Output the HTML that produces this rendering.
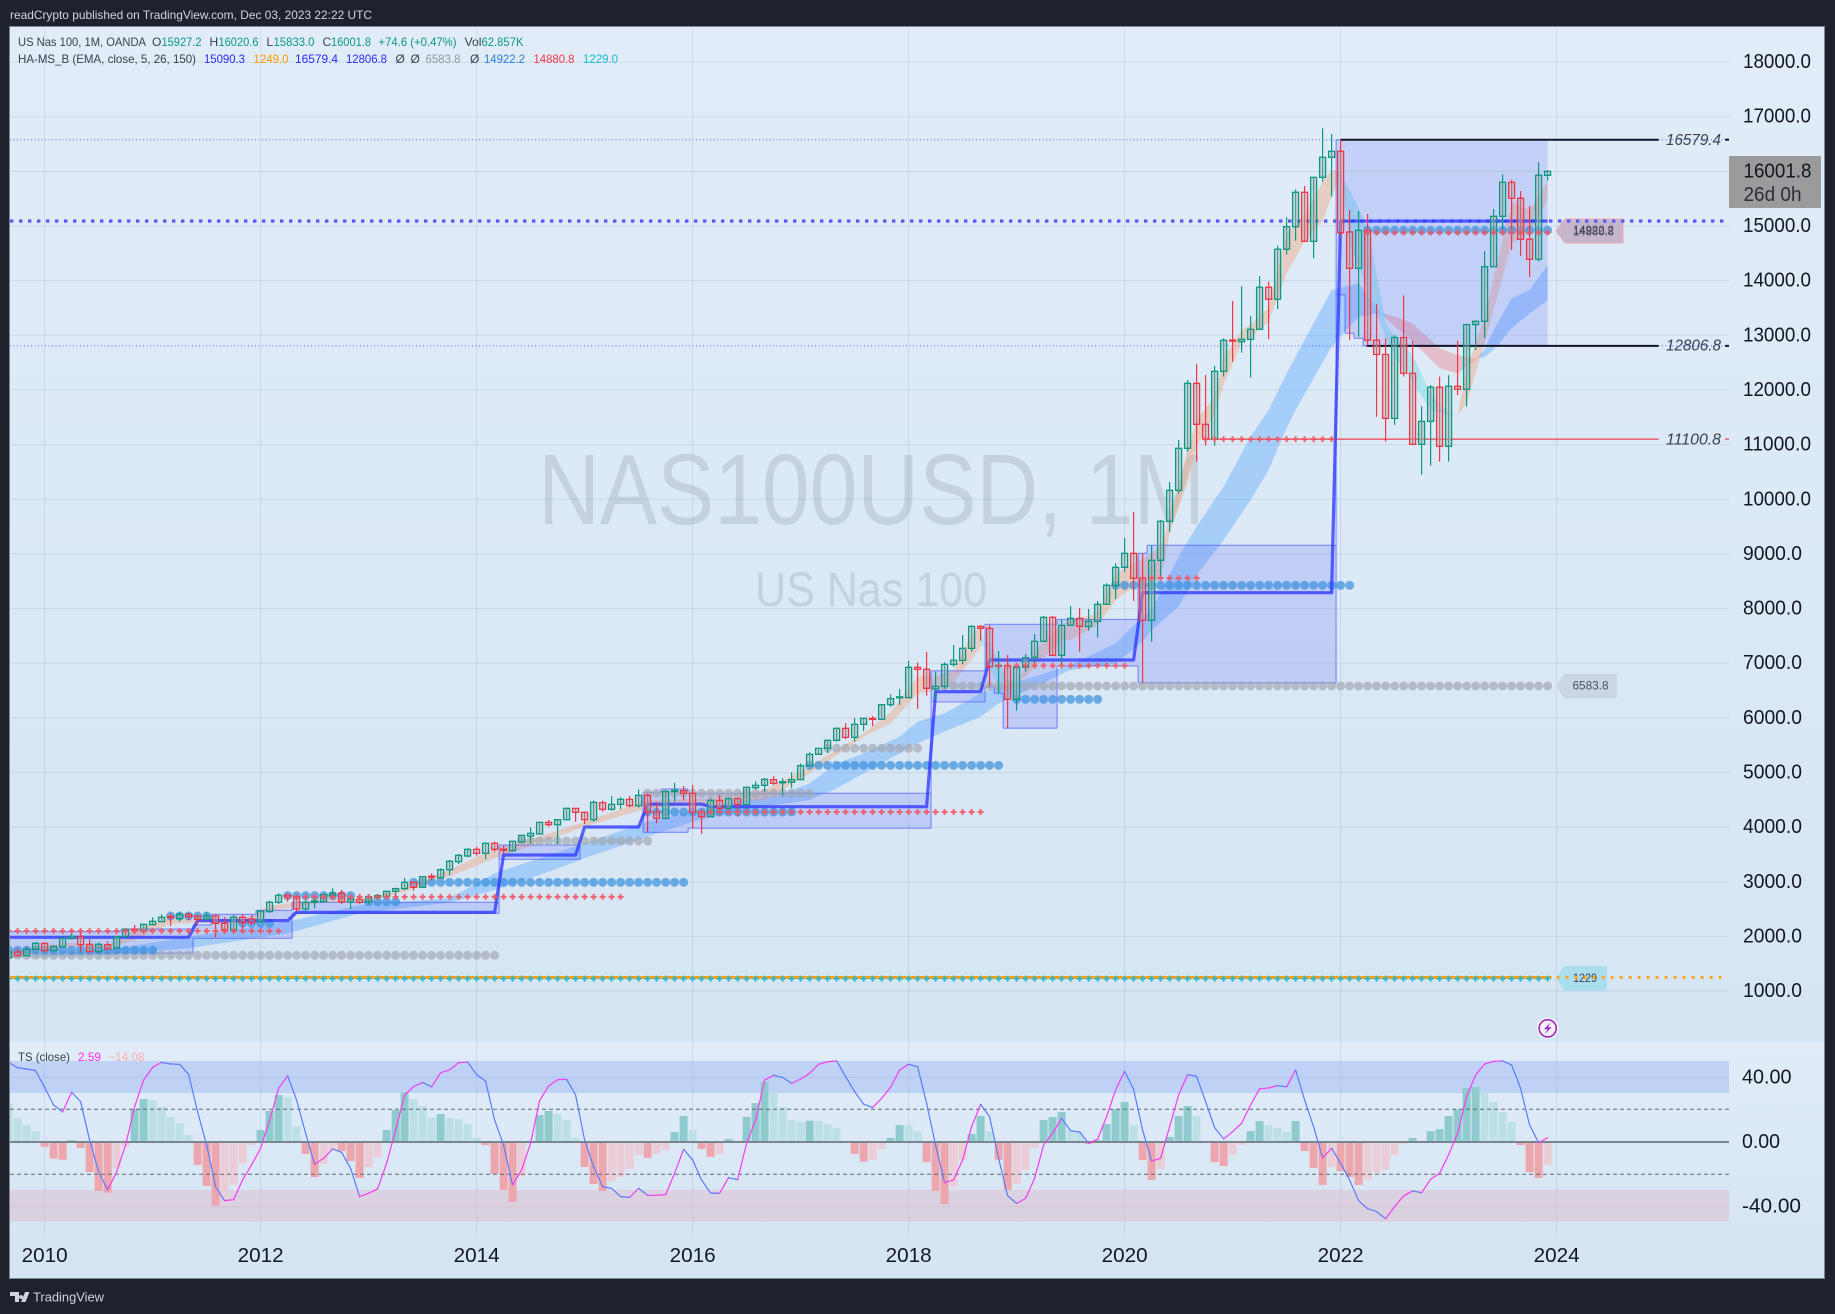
<!DOCTYPE html>
<html lang="en">
<head>
<meta charset="utf-8">
<title>US Nas 100 monthly chart</title>
<style>
html,body{margin:0;padding:0;background:#1e222d;width:1835px;height:1314px;overflow:hidden}
svg{display:block}
text{font-family:"Liberation Sans",sans-serif}
</style>
</head>
<body>
<svg id="chart" xmlns="http://www.w3.org/2000/svg" width="1835" height="1314" viewBox="0 0 1835 1314">
  <defs>
    <linearGradient id="mainBg" x1="0" y1="0" x2="0" y2="1"><stop offset="0" stop-color="#e1ecf8"/><stop offset="1" stop-color="#d6e5f4"/></linearGradient>
    <linearGradient id="tsBg" x1="0" y1="0" x2="0" y2="1"><stop offset="0" stop-color="#e1ecf8"/><stop offset="1" stop-color="#d6e5f4"/></linearGradient>
    <clipPath id="mainClip"><rect x="10" y="27" width="1719" height="1015"/></clipPath>
    <clipPath id="tsClip"><rect x="10" y="1042" width="1719" height="193"/></clipPath>
  </defs>

  <rect x="0" y="0" width="1835" height="1314" fill="#1e222d"/>
  <text x="10" y="19" font-size="12" fill="#d1d4dc" textLength="362" lengthAdjust="spacingAndGlyphs">readCrypto published on TradingView.com, Dec 03, 2023 22:22 UTC</text>

  <rect x="10" y="27" width="1814" height="1015" fill="url(#mainBg)"/>
  <rect x="10" y="1042" width="1814" height="193" fill="url(#tsBg)"/>
  <rect x="10" y="1235" width="1814" height="43" fill="#d6e5f4"/>

  <g id="grid"></g>

  <text x="538" y="524" font-size="100" fill="#6b7680" fill-opacity="0.2" textLength="667" lengthAdjust="spacingAndGlyphs">NAS100USD, 1M</text>
  <text x="755" y="606" font-size="48" fill="#6b7680" fill-opacity="0.2" textLength="232" lengthAdjust="spacingAndGlyphs">US Nas 100</text>

  <g>
    <polygon points="1556,231 1565,219 1623,219 1623,243 1565,243" fill="#c6b6cb" stroke="#f0aab0" stroke-width="1"/>
    <text x="1573" y="234" font-size="11.5" fill="#444a55" textLength="41" lengthAdjust="spacingAndGlyphs">14922.2</text>
    <text x="1573" y="235.5" font-size="11.5" fill="#444a55" textLength="41" lengthAdjust="spacingAndGlyphs">14880.8</text>
    <polygon points="1556.5,686 1564,674 1617,674 1617,698.5 1564,698.5" fill="#cbd6e4"/>
    <text x="1572.5" y="689.5" font-size="12" fill="#4a505c" textLength="36" lengthAdjust="spacingAndGlyphs">6583.8</text>
    <polygon points="1556.5,978 1564,966 1607,966 1607,990.5 1564,990.5" fill="#abdeec"/>
    <text x="1573" y="982" font-size="12" fill="#3f4652" textLength="24" lengthAdjust="spacingAndGlyphs">1229</text>
    <text x="1666" y="145" font-size="15.5" font-style="italic" fill="#3b404c" textLength="55" lengthAdjust="spacingAndGlyphs">16579.4</text>
    <text x="1666" y="350.5" font-size="15.5" font-style="italic" fill="#3b404c" textLength="55" lengthAdjust="spacingAndGlyphs">12806.8</text>
    <text x="1666" y="444.5" font-size="15.5" font-style="italic" fill="#3b404c" textLength="55" lengthAdjust="spacingAndGlyphs">11100.8</text>
  </g>

  <g clip-path="url(#mainClip)">
    <g id="bands"></g>
    <g id="boxes"></g>
    <g id="dots"></g>
    <g id="levels"></g>
    <g id="candles"></g>
    <g id="crosses"></g>
  </g>

  <g font-size="12">
    <text x="18" y="46" fill="#3a3f4b" textLength="128" lengthAdjust="spacingAndGlyphs">US Nas 100, 1M, OANDA</text>
    <text x="152" y="46" fill="#3a3f4b">O</text>
    <text x="161.5" y="46" fill="#089981" textLength="40" lengthAdjust="spacingAndGlyphs">15927.2</text>
    <text x="209.5" y="46" fill="#3a3f4b">H</text>
    <text x="218.5" y="46" fill="#089981" textLength="40" lengthAdjust="spacingAndGlyphs">16020.6</text>
    <text x="266.5" y="46" fill="#3a3f4b">L</text>
    <text x="273.5" y="46" fill="#089981" textLength="41" lengthAdjust="spacingAndGlyphs">15833.0</text>
    <text x="322.5" y="46" fill="#3a3f4b">C</text>
    <text x="331" y="46" fill="#089981" textLength="40" lengthAdjust="spacingAndGlyphs">16001.8</text>
    <text x="378.5" y="46" fill="#089981" textLength="78" lengthAdjust="spacingAndGlyphs">+74.6 (+0.47%)</text>
    <text x="464.5" y="46" fill="#3a3f4b" textLength="17" lengthAdjust="spacingAndGlyphs">Vol</text>
    <text x="481.5" y="46" fill="#089981" textLength="42" lengthAdjust="spacingAndGlyphs">62.857K</text>
    <text x="18" y="63" fill="#3a3f4b" textLength="178" lengthAdjust="spacingAndGlyphs">HA-MS_B (EMA, close, 5, 26, 150)</text>
    <text x="204" y="63" fill="#2a2aff" textLength="41" lengthAdjust="spacingAndGlyphs">15090.3</text>
    <text x="253.5" y="63" fill="#ff9800" textLength="35" lengthAdjust="spacingAndGlyphs">1249.0</text>
    <text x="295" y="63" fill="#2a2aff" textLength="43" lengthAdjust="spacingAndGlyphs">16579.4</text>
    <text x="346" y="63" fill="#2a2aff" textLength="41" lengthAdjust="spacingAndGlyphs">12806.8</text>
    <text x="395.5" y="63" fill="#3a3f4b">Ø</text>
    <text x="410.5" y="63" fill="#3a3f4b">Ø</text>
    <text x="425.5" y="63" fill="#9498a1" textLength="35" lengthAdjust="spacingAndGlyphs">6583.8</text>
    <text x="470" y="63" fill="#3a3f4b">Ø</text>
    <text x="484" y="63" fill="#2a7fd8" textLength="41" lengthAdjust="spacingAndGlyphs">14922.2</text>
    <text x="533.5" y="63" fill="#f23645" textLength="41" lengthAdjust="spacingAndGlyphs">14880.8</text>
    <text x="583" y="63" fill="#12bcd4" textLength="35" lengthAdjust="spacingAndGlyphs">1229.0</text>
  </g>

  <g clip-path="url(#tsClip)">
    <rect x="10" y="1061" width="1719" height="32" fill="#7ba0f2" fill-opacity="0.32"/>
    <rect x="10" y="1189.7" width="1719" height="32" fill="#e88a9a" fill-opacity="0.22"/>
    <g id="hist"></g>
    <line x1="10" y1="1109.3" x2="1729" y2="1109.3" stroke="#5f6670" stroke-width="1" stroke-dasharray="4 3"/>
    <line x1="10" y1="1174.3" x2="1729" y2="1174.3" stroke="#5f6670" stroke-width="1" stroke-dasharray="4 3"/>
    <line x1="10" y1="1142" x2="1729" y2="1142" stroke="#78878f" stroke-width="2"/>
    <g id="tsline"></g>
  </g>
  <text x="18" y="1061" font-size="12" fill="#3a3f4b" textLength="52" lengthAdjust="spacingAndGlyphs">TS (close)</text>
  <text x="78" y="1061" font-size="12" fill="#ff2bf0" textLength="23" lengthAdjust="spacingAndGlyphs">2.59</text>
  <text x="108.5" y="1061" font-size="12" fill="#fbaeae" textLength="36" lengthAdjust="spacingAndGlyphs">−14.08</text>

  <g>
    <circle cx="1547.7" cy="1028.3" r="10.5" fill="#ffffff"/>
    <circle cx="1547.7" cy="1028.3" r="8.6" fill="#f4eef9" stroke="#9c27b0" stroke-width="1.6"/>
    <path d="M1550.5 1022.5 L1544 1029.3 L1547.5 1029.3 L1545 1034 L1551.5 1027.2 L1548 1027.2 Z" fill="#9c27b0"/>
  </g>

  <g id="priceAxis"></g>
  <g id="tsAxis"></g>
  <g id="timeAxis"></g>

  <g>
    <rect x="1729" y="156" width="92" height="52" fill="#9b9b9b" rx="1"/>
    <text x="1743.5" y="177.5" font-size="20" fill="#131722" textLength="68" lengthAdjust="spacingAndGlyphs">16001.8</text>
    <text x="1743.5" y="201" font-size="20" fill="#2a2e39" textLength="58" lengthAdjust="spacingAndGlyphs">26d 0h</text>
  </g>

  <rect x="9.5" y="26.5" width="1815" height="1252" fill="none" stroke="#7d8794" stroke-width="1"/>

  <g>
    <path d="M10 1292 H19 V1302 H15 V1296 H10 Z M21 1295 a2 2 0 1 0 0.01 0 Z M25 1292 H29.5 L25.5 1302 H21 Z" fill="#d1d4dc"/>
    <text x="33" y="1301.5" font-size="13" fill="#d1d4dc" textLength="71" lengthAdjust="spacingAndGlyphs">TradingView</text>
  </g>
</svg>

<script>
// ---------- chart data (index 0 = Sep 2009, one entry per month) ----------
const opens = [
1612,1716,1649,1765,1875,1740,1813,1960,2003,1856,1722,1850,1783,1997,2135,2106,
2216,2271,2365,2326,2405,2375,2314,2375,2240,2118,2350,2320,
2271,2454,2625,2753,2716,2503,2625,2637,2753,2790,2631,2680,
2637,2716,2728,2826,2875,2991,2899,3104,3076,3222,3369,3472,
3594,3521,3704,3596,3570,3729,3838,3875,4088,4046,4137,4344,
4271,4137,4448,4326,4418,4509,4393,4582,4277,4162,4650,4668,
4619,4271,4192,4490,4344,4521,4411,4722,4765,4869,4826,4820,
4869,5125,5332,5442,5588,5808,5643,5881,5991,5973,6241,6375,
6369,6924,6888,6530,6577,6979,7052,7272,7674,7638,6950,6955,
6339,6924,7107,7400,7839,7144,7693,7821,7674,7766,8077,8425,
8754,9010,8553,7784,8883,9596,10163,10932,12121,11371,11103,12341,
12912,12884,12926,13110,13880,13660,14575,14987,15617,14720,15890,16257,
16367,14890,14226,14920,12910,12650,11480,12960,12305,11005,11425,12050,
10969,12067,12012,13195,13256,14255,15177,15800,15507,14757,14391,15927];
const highs = [
1753,1783,1813,1893,1893,1832,1978,2057,2088,1948,1893,1911,1997,2143,2210,2222,
2350,2405,2423,2436,2436,2399,2442,2405,2350,2393,2411,2393,
2484,2655,2790,2790,2759,2667,2698,2790,2881,2850,2747,2728,
2771,2777,2826,2893,3070,3009,3094,3155,3247,3399,3509,3613,
3643,3723,3735,3661,3741,3857,3997,4088,4131,4137,4357,4351,
4283,4485,4485,4570,4546,4570,4692,4619,4460,4680,4814,4753,
4771,4271,4527,4588,4539,4521,4746,4838,4899,4930,4893,5003,
5165,5369,5442,5607,5826,5905,5997,5991,6034,6241,6430,6528,
7040,7016,7205,6845,7016,7333,7516,7693,7693,7699,7223,7150,
6924,7168,7534,7863,7863,7803,8046,8010,7992,8138,8461,8827,
9291,9766,9010,9157,9620,10316,11085,12182,12475,12274,12438,12945,
13628,13900,13353,14084,13980,14640,15160,15670,15732,15890,16787,16683,
16579,15295,15275,15220,13570,12945,13000,13730,12895,11700,12090,12243,
12270,12900,13210,13270,14540,15311,15946,15850,15640,15365,16166,16020];
const lows = [
1600,1630,1649,1752,1722,1722,1801,1948,1722,1710,1704,1752,1771,1984,2057,2088,
2204,2259,2192,2271,2301,2210,2301,1978,2057,2057,2149,2210,
2253,2436,2594,2637,2454,2454,2515,2625,2728,2594,2503,2594,
2594,2680,2698,2728,2850,2832,2899,3033,3064,3125,3326,3448,
3478,3418,3552,3521,3552,3716,3704,3863,4009,3692,4137,4101,
4058,4101,4283,4302,4326,4363,4357,3905,4070,4149,4467,4485,
3979,3875,4192,4253,4332,4192,4405,4692,4649,4771,4576,4716,
4869,5125,5332,5356,5564,5607,5564,5759,5850,5967,6204,6235,
6369,6162,6406,6327,6534,6936,6979,7211,7412,6570,6449,5814,
6131,6845,6955,7400,7138,6955,7693,7211,7595,7467,8077,8175,
8675,8138,6638,7394,8565,9407,10108,10871,10688,10981,10981,12243,
12518,12682,12225,13100,12930,13480,14480,14730,14710,14409,15810,15536,
14800,12915,12975,12815,11510,11055,11360,12243,10990,10450,10614,10687,
10687,11906,11694,12730,12950,14240,14913,14560,14450,14072,14350,15833];
const closes = [
1716,1649,1765,1875,1740,1820,1966,2003,1850,1722,1856,1771,1997,2131,2125,2222,
2277,2350,2358,2405,2362,2314,2375,2240,2118,2350,2253,2253,
2466,2625,2753,2716,2503,2625,2649,2765,2790,2631,2680,2625,
2728,2747,2826,2875,2991,2899,3094,3100,3222,3375,3484,3594,
3521,3704,3594,3592,3741,3850,3887,4088,4046,4137,4344,4271,
4137,4454,4326,4418,4509,4393,4582,4277,4162,4650,4674,4619,
4271,4192,4490,4344,4521,4417,4728,4765,4875,4802,4830,4869,
5125,5332,5442,5588,5808,5643,5881,5991,5979,6241,6351,6385,
6924,6888,6540,6577,6979,7052,7272,7674,7638,6936,6962,6339,
6924,7101,7400,7839,7144,7693,7821,7674,7766,8077,8425,8754,
9010,8553,7784,8882,9596,10163,10932,12121,11371,11103,12341,12908,
12904,12926,13109,13880,13660,14575,14987,15617,14720,15890,16257,16367,
14877,14226,14920,12910,12650,11480,12960,12305,11005,11425,12050,10969,
12067,12012,13195,13256,14255,15177,15800,15507,14757,14391,15930,16001];
const firstMonth = -4; // months relative to Jan 2010

// TS oscillator
const tsHist = [
24,14.9,10.5,6.8,-3,-10.3,-11,1.2,-3.7,-18.6,-30.3,-31.4,-16.3,-3,20.2,26.6,
26,21.7,15.5,11.8,4.3,-14.2,-27.2,-39.4,-34.9,-26.6,-13.2,-1.9,
7.4,19.2,29.1,27.9,9.9,-7.4,-21.7,-13.6,-5,-5.6,-11.8,-22.3,
-15.5,-9.3,7.4,19.8,30.8,26.6,22.3,14.9,17.3,14.9,14.2,11.1,
2.5,-1.9,-19.8,-29.7,-37.2,-21,0,16.7,19.2,17.3,13.6,2.5,
-15.5,-26,-30.3,-24.1,-21.7,-16.7,-8,-9.9,-7.4,-5,6.2,16.1,
7.4,-4.3,-9.3,-7.4,1.9,0,15.5,24.1,37.2,30.3,21.7,13.6,
12.5,13.2,13,11.1,8.7,-0.5,-7.4,-12.2,-11.1,-4.3,2.5,10.5,
10.5,6.8,-12.4,-30.3,-38.4,-27.7,-11.1,5,16.1,6.8,-11,-29.7,
-26,-17.3,-3.7,13.6,15.5,18.6,7.4,6.2,-1.2,1.2,11.1,20.2,
24.8,10.5,-11.1,-23.5,-16.7,3.1,16.1,22.3,16.1,0,-12.4,-14.9,
-8,-1.9,6.8,13,10.5,8.7,6.2,13,-5.6,-16.1,-26.6,-15.5,
-18,-21.7,-26.6,-23.5,-19.2,-17.3,-8,-1.2,2.5,0,6.8,8,
16.1,20.2,33.4,34,30.8,24.8,18.6,12.4,-1.9,-18.6,-22.3,-14.08];
const tsLine = [
49.3,46,45.2,44.2,33.8,22.9,18.6,30.8,25,1.2,-18.4,-29.7,-18.4,-1.9,21.9,38.4,
46.2,49.3,48.3,48.1,41.9,18.8,-1.9,-27.7,-36.3,-35.7,-23.5,-14.2,
-3.9,13.6,33.2,41,26,5.4,-13.8,-10.1,-4.3,-6.4,-16.3,-33.8,
-31.8,-28.9,-13.2,7.4,29.1,34.3,36.9,34.1,42.9,44.6,49.1,49.5,
41.7,37.8,13.6,-1.9,-26.6,-17.3,-0.8,25.6,34.7,38.6,38.8,29.1,
1.2,-15.3,-27.7,-28.7,-33.8,-34.3,-28.7,-33,-33,-32.6,-19.4,-4.5,
-11.1,-23.5,-31.6,-31.8,-22.1,-23.3,-0.8,13.6,38.4,41.3,40,36.3,
39,42.5,48.1,49.7,50.2,40.5,31.2,23.5,21.3,27,33.8,44.6,
48.1,46.6,23.9,-1.9,-25.2,-23.5,-11.1,9.5,23.3,15.7,-10.1,-33.2,
-38,-34.9,-22.5,-1.9,5.4,14.7,7,6.2,-0.8,1.7,15.7,32.2,
43.8,32.6,7.4,-11.8,-10.1,9.5,29.1,41.7,40.7,25,8.9,1.9,
6.4,11.6,22.9,33,33.4,34.9,34.1,44.6,26,9.5,-9.9,-3.9,
-13.2,-23.5,-36.3,-41.3,-43.1,-47.5,-40,-33.4,-30.3,-31.4,-23.1,-19.4,
-8,5.4,28,41.5,48.3,49.9,50.2,47.7,33.2,10.5,-0.4,2.59];

// EMA band readings
const bandAMonths = [-4,-1,3,7,10,14,18,22,25,31,36,40,45,50,55,60,67,73,80,85,91,94,97,99,101,103,104,105,106,107,108,109,111,113,114,117,119,121,122,124,125,127,128,130,131,133,134,136,138,140,142,143,144,145,147,149,150,152,154,156,157,158,160,163,165,167];
const bandAFast  = [1660,1830,1880,1840,2118,2350,2300,2270,2560,2700,2690,2911,3216,3613,3826,4101,4497,4520,4680,5106,5716,6100,6753,6760,6850,7546,7640,6950,6500,6500,6650,6950,7400,7700,7790,7912,8650,8827,8900,9133,9621,10900,11450,11877,12600,13097,13200,13500,14866,15201,15811,16025,16000,14683,13829,12975,12609,12152,11633,11530,11550,12365,13341,15445,15293,15811];
const bandASlow  = [1590,1720,1800,1790,1935,2230,2250,2240,2470,2620,2640,2820,3094,3430,3704,4009,4345,4420,4496,4984,5655,5900,6448,6500,6650,7058,7300,7400,7000,6700,6680,6750,7100,7424,7424,7699,8150,8400,8500,8523,9377,10300,10962,11572,12100,12853,12950,13250,14134,14713,15079,15537,15950,15659,14988,13219,12975,12640,11938,11572,11530,11755,12853,14683,14866,15476];
const bandBMonths = [-4,7,16,27,35,45,50,55,60,67,72,76,81,85,88,91,95,97,100,104,106,110,114,119,122,123,126,128,131,134,136,138,139,143,146,148,149,152,155,157,159,160,161,163,165,167];
const bandBFast   = [1640,1752,1996,2271,2576,2698,3155,3430,3704,4101,4283,4450,4558,4802,5167,5350,5655,5930,6082,6448,6570,6754,6967,7363,7851,7974,8950,9499,10231,11145,11633,12300,12609,13829,13951,13494,13310,12884,12396,12304,12548,12750,13097,13677,13829,14286];
const bandBSlow   = [1600,1661,1783,2057,2423,2619,2850,3125,3430,3826,4101,4250,4405,4497,4710,4985,5350,5533,5747,6021,6265,6570,6875,7000,7394,7608,8035,8614,9255,9987,10536,11300,11634,12792,13341,13402,13402,13219,12762,12640,12579,12600,12731,13128,13402,13646];

// Stepped range boxes: first month, last month, upper level, lower level
const boxStarts = [-4,9,17,19,24,28,51,67,69,72,99,105,106,107,113,122,123,144,145,146,147];
const boxEnds   = [8,16,18,23,27,50,59,68,71,98,104,105,106,112,121,122,143,144,145,146,166.5];
const boxUppers = [2087,2136,2210,2405,2478,2624,3672,4637,4700,4620,6860,7712,7712,7712,7800,9010,9157,16579.4,16579.4,16579.4,16579.4];
const boxLowers = [1691,1691,1966,1966,1966,2424,3412,3905,3905,3980,6290,6560,6448,5810,6950,6638,6638,13738,13036,12945,12806.8];

// Stepped mid line: first month, last month, level
const midStarts = [-4,17,28,51,60,67,74,99,105,122,144];
const midEnds   = [16,27,50,59,66,73,98,104,121,143,167];
const midLevels = [1984,2289,2441,3491,4003,4420,4374,6479,7058,8290,15090.3];

// Dot and cross runs
const grayStarts = [-4,53,67,87,100];
const grayEnds   = [50,67,85,97,167];
const grayLevels = [1655,3747,4620,5443,6583.8];
const blueStarts = [-4,14,22,27,36,41,67,85,108,119,147];
const blueEnds   = [12,18,25,34,39,71,83,106,117,145,167];
const blueLevels = [1748,2374,2240,2746,2636,2990,4277,5131,6339,8425,14922.2];
const redStarts  = [-4,27,73,106,122,129,147];
const redEnds    = [26,64,104,120,128,143,167];
const redLevels  = [2100,2725,4277,6955,8560,11100.8,14880.8];
const floorLevel = 1229;
const baseLevel = 1249;
const lastBarMonth = 167;
const upperLevel = 16579.4, lowerLevel = 12806.8, midLevel = 15090.3, pivotLevel = 11100.8, lastPrice = 16001.8;

// Axis tick labels
const priceTicks = [18000,17000,16000,15000,14000,13000,12000,11000,10000,9000,8000,7000,6000,5000,4000,3000,2000,1000];
const tsTicks = [40,0,-40];
const tsTickLabels = ["40.00","0.00","-40.00"];
const yearTicks = [2010,2012,2014,2016,2018,2020,2022,2024];

// ---------- axis functions ----------
function xMonth(m){return 44.6+9*m;}
function yPrice(p){return 116.7+(17000-p)*0.05465;}
function yTs(v){return 1142-1.615*v;}
function xYear(year){return xMonth((year-2010)*12);}

const NS='http://www.w3.org/2000/svg';
function make(parent,tag,attrs,txt){
  const el=document.createElementNS(NS,tag);
  for(const k in attrs){el.setAttribute(k,attrs[k]);}
  if(txt!==undefined){el.textContent=txt;}
  document.getElementById(parent).appendChild(el);
  return el;
}
function f(n){return n.toFixed(2);}

// ---------- grid ----------
priceTicks.forEach(function(p){
  const el=make('grid','line',{x1:10,x2:1729,y1:f(yPrice(p)),y2:f(yPrice(p)),stroke:'#64788f','stroke-opacity':0.13,'stroke-width':1.2});
  
  
});
tsTicks.forEach(function(v){
  if(v===0){return;}
  const el=make('grid','line',{x1:10,x2:1729,y1:f(yTs(v)),y2:f(yTs(v)),stroke:'#64788f','stroke-opacity':0.13,'stroke-width':1.2});
  
  
});
yearTicks.forEach(function(y){
  const el=make('grid','line',{x1:f(xYear(y)),x2:f(xYear(y)),y1:27,y2:1235,stroke:'#64788f','stroke-opacity':0.15,'stroke-width':1});
  
  
});

// ---------- EMA bands ----------
function drawBand(months,a,b,posColor,negColor,bandName){
  let k=0;
  while(k<months.length-1){
    const up=(a[k]+a[k+1])>=(b[k]+b[k+1]);
    let e=k+1;
    while(e<months.length-1 && ((a[e]+a[e+1])>=(b[e]+b[e+1]))===up){e++;}
    const top=[],bot=[];
    for(let j=k;j<=e;j++){
      top.push(f(xMonth(months[j]))+','+f(yPrice(a[j])));
      bot.unshift(f(xMonth(months[j]))+','+f(yPrice(b[j])));
    }
    const el=make('bands','polygon',{points:top.concat(bot).join(' '),fill:up?posColor:negColor});
    
    
    k=e;
  }
}
drawBand(bandBMonths,bandBFast,bandBSlow,'rgba(85,165,255,0.4)','rgba(240,115,120,0.36)','slow-ema-band');
drawBand(bandAMonths,bandAFast,bandASlow,'rgba(240,165,125,0.42)','rgba(125,218,232,0.5)','fast-ema-band');

// ---------- range boxes ----------
boxStarts.forEach(function(s,i){
  const x0=xMonth(s)-4.5, x1=xMonth(boxEnds[i])+4.5;
  const yU=yPrice(boxUppers[i]), yL=yPrice(boxLowers[i]);
  const fillEl=make('boxes','rect',{x:f(x0),y:f(yU),width:f(x1-x0),height:f(yL-yU),fill:'rgba(85,100,250,0.2)'});
  
  
  const joined=i>0 && boxEnds[i-1]+1===s;
  const joinedNext=i<boxStarts.length-1 && boxStarts[i+1]===boxEnds[i]+1;
  let d='M'+f(x0)+' '+f(yU)+'H'+f(x1)+'M'+f(x0)+' '+f(yL)+'H'+f(x1);
  if(joined){
    d+='M'+f(x0)+' '+f(yPrice(boxUppers[i-1]))+'V'+f(yU);
    d+='M'+f(x0)+' '+f(yPrice(boxLowers[i-1]))+'V'+f(yL);
  }else{
    d+='M'+f(x0)+' '+f(yU)+'V'+f(yL);
  }
  if(!joinedNext && i<boxStarts.length-1){d+='M'+f(x1)+' '+f(yU)+'V'+f(yL);}
  const outline=make('boxes','path',{d:d,fill:'none',stroke:'rgba(75,85,250,0.62)','stroke-width':1.1});
  
  
});

// ---------- level dots ----------
function drawDots(starts,ends,levels,color,dotName){
  starts.forEach(function(s,i){
    for(let m=s;m<=ends[i];m++){
      const el=make('dots','circle',{cx:f(xMonth(m)),cy:f(yPrice(levels[i])),r:4.5,fill:color});
      
      
    }
  });
}
drawDots(grayStarts,grayEnds,grayLevels,'rgba(160,166,176,0.68)','gray-level-dot');
drawDots(blueStarts,blueEnds,blueLevels,'rgba(60,145,222,0.72)','blue-level-dot');

// ---------- level lines ----------
function hLine(x1,x2,p,attrs,lineName){
  const a=Object.assign({x1:x1,x2:x2,y1:f(yPrice(p)),y2:f(yPrice(p))},attrs);
  const el=make('levels','line',a);
  
  
}
hLine(10,1729,lastPrice,{stroke:'#b4bec9','stroke-width':0.8,'stroke-dasharray':'1 3'},'last-price-dotted-line');
hLine(10,1729,upperLevel,{stroke:'#5f63ee','stroke-width':1,'stroke-dasharray':'1 2.5'},'upper-dotted-line');
hLine(10,1729,lowerLevel,{stroke:'#5f63ee','stroke-width':1,'stroke-dasharray':'1 2.5'},'lower-dotted-line');
hLine(10,1725,midLevel,{stroke:'#5a5ff5','stroke-width':3.4,'stroke-dasharray':'3.4 5.6'},'mid-dotted-line');
hLine(xMonth(lastBarMonth)+9,1724,baseLevel,{stroke:'#ffa726','stroke-width':3,'stroke-dasharray':'3 6'},'base-dotted-line');
hLine(xMonth(firstMonth),xMonth(lastBarMonth)+4,baseLevel,{stroke:'#ff9f1c','stroke-width':3},'base-line');
hLine(xMonth(144),1658.6,upperLevel,{stroke:'#14142a','stroke-width':2},'upper-level-line');
hLine(xMonth(147)-1,1658.6,lowerLevel,{stroke:'#14142a','stroke-width':2},'lower-level-line');
hLine(1203,1658.6,pivotLevel,{stroke:'#f2414f','stroke-width':1.2},'pivot-level-line');
hLine(1725,1729,upperLevel,{stroke:'#14142a','stroke-width':2},'upper-axis-tick');
hLine(1725,1729,lowerLevel,{stroke:'#14142a','stroke-width':2},'lower-axis-tick');
hLine(1725,1729,pivotLevel,{stroke:'#f2414f','stroke-width':1.2},'pivot-axis-tick');

const midPts=[];
midStarts.forEach(function(s,i){
  midPts.push(f(xMonth(s))+','+f(yPrice(midLevels[i])));
  midPts.push(f(xMonth(midEnds[i]))+','+f(yPrice(midLevels[i])));
});
const midEl=make('levels','polyline',{points:midPts.join(' '),fill:'none',stroke:'rgba(45,55,255,0.78)','stroke-width':3.2,'stroke-linejoin':'round'});



// ---------- candles ----------
opens.forEach(function(o,i){
  const m=firstMonth+i, x=xMonth(m), c=closes[i], up=c>=o;
  const color=up?'#089981':'#f23645';
  const wick=make('candles','line',{x1:f(x),x2:f(x),y1:f(yPrice(highs[i])),y2:f(yPrice(lows[i])),stroke:color,'stroke-width':1.2});
  
  
  const top=yPrice(Math.max(o,c)), bot=yPrice(Math.min(o,c));
  const body=make('candles','rect',{x:f(x-3),y:f(top),width:6,height:f(Math.max(bot-top,1)),fill:'rgba(172,174,178,0.42)',stroke:color,'stroke-width':1.3});
  
  
});

// ---------- crosses ----------
function drawCross(m,p,color,crossName){
  const x=xMonth(m), y=yPrice(p);
  const d='M'+f(x-3)+' '+f(y)+'H'+f(x+3)+'M'+f(x)+' '+f(y-3)+'V'+f(y+3);
  const el=make('crosses','path',{d:d,stroke:color,'stroke-width':2,fill:'none'});
  
  
}
redStarts.forEach(function(s,i){
  for(let m=s;m<=redEnds[i];m++){drawCross(m,redLevels[i],'rgba(240,85,98,0.9)','red-level-cross');}
});
for(let m=firstMonth;m<=lastBarMonth;m++){drawCross(m,floorLevel,'#2fb9c6','floor-level-cross');}

// ---------- oscillator ----------
tsHist.forEach(function(v,i){
  if(v===0){return;}
  const prev=i>0?tsHist[i-1]:v+1;
  const growing=Math.abs(v)>Math.abs(prev) || prev*v<0;
  const fill=v>=0?(growing?'#8fcace':'#bde0e6'):(growing?'#eda6ae':'#ebcdd7');
  const x=xMonth(firstMonth+i);
  const y0=yTs(Math.max(v,0)), y1=yTs(Math.min(v,0));
  const el=make('hist','rect',{x:f(x-4),y:f(y0),width:8,height:f(y1-y0),fill:fill});
  
  
});
for(let i=1;i<tsLine.length;i++){
  const rising=tsLine[i]>=tsLine[i-1];
  const el=make('tsline','line',{x1:f(xMonth(firstMonth+i-1)),y1:f(yTs(tsLine[i-1])),x2:f(xMonth(firstMonth+i)),y2:f(yTs(tsLine[i])),stroke:rising?'#f53cf0':'#5a7cff','stroke-width':1.2,'stroke-linecap':'round'});
  
  
}

// ---------- axis labels ----------
priceTicks.forEach(function(p){
  const label=p.toFixed(1);
  const el=make('priceAxis','text',{x:1743,y:f(yPrice(p)+6),'font-size':20,fill:'#131722',textLength:label.length===7?68:59,lengthAdjust:'spacingAndGlyphs'},label);
  
  
});
const tsWidths=[49.5,38,59];
tsTicks.forEach(function(v,i){
  const el=make('tsAxis','text',{x:1742,y:f(yTs(v)+6),'font-size':20,fill:'#131722',textLength:tsWidths[i],lengthAdjust:'spacingAndGlyphs'},tsTickLabels[i]);
  
  
});
yearTicks.forEach(function(y){
  const el=make('timeAxis','text',{x:f(xYear(y)-23),y:1262,'font-size':20,fill:'#131722',textLength:46,lengthAdjust:'spacingAndGlyphs'},String(y));
  
  
});
</script>
</body>
</html>
